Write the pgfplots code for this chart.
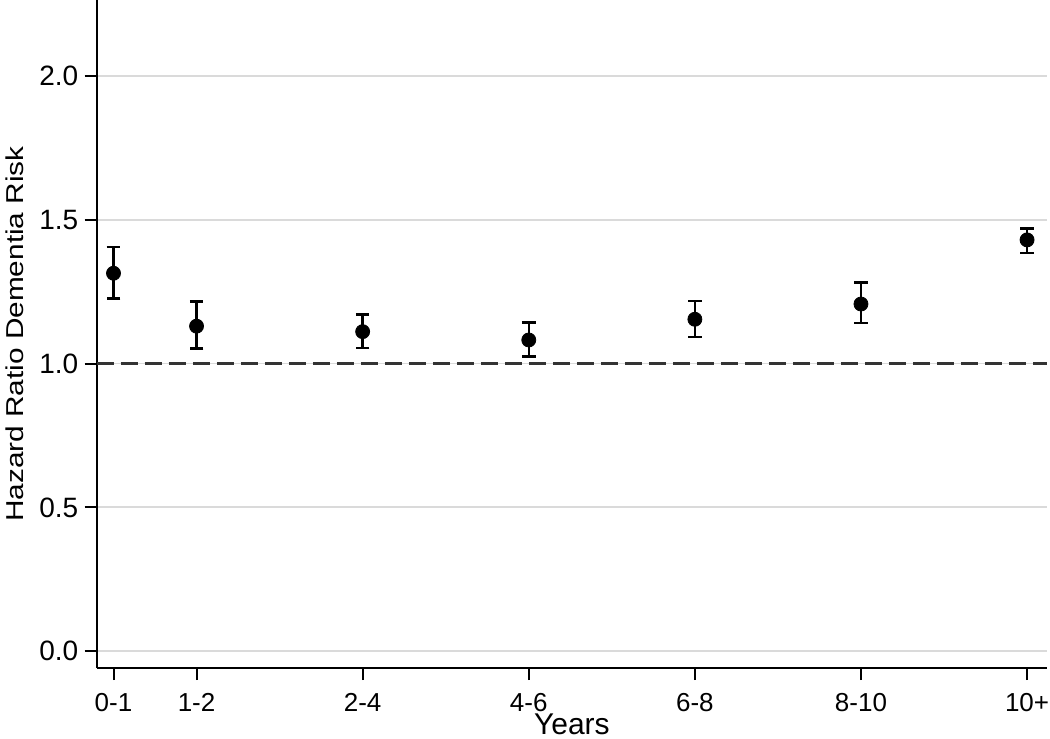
\documentclass[border=0pt]{standalone}
\usepackage{fontspec}
\setmainfont{Liberation Sans}
\newfontfamily\ylabfont[FakeStretch=1.22]{Liberation Sans}
\usepackage{pgfplots}
\usepackage{pgfplotstable}
\pgfplotsset{compat=1.18}
\definecolor{gridgray}{HTML}{DADADA}
\definecolor{refline}{HTML}{333333}
\pgfplotstableread{
x y lo hi
0 1.314 1.227 1.406
1 1.130 1.053 1.216
3 1.111 1.054 1.171
5 1.082 1.024 1.143
7 1.154 1.092 1.218
9 1.207 1.141 1.281
11 1.430 1.385 1.469
}\hrdata
\begin{document}
\begin{tikzpicture}
\begin{axis}[
  name=ax,
  scale only axis,
  width=475pt, height=334pt,
  xmin=-0.202, xmax=11.24,
  ymin=-0.059, ymax=2.264,
  axis x line*=bottom, axis y line*=left,
  axis line style={line width=1pt, black, -},
  tick align=outside,
  major tick length=6pt,
  tick style={line width=1pt, black},
  xtick={0,1,3,5,7,9,11},
  xticklabels={0-1,1-2,2-4,4-6,6-8,8-10,10+},
  ytick={0,0.5,1,1.5,2},
  ymajorgrids,
  major grid style={line width=0.9pt, gridgray},
  /pgf/number format/assume math mode=true,
  yticklabel style={font=\fontsize{14}{16}\selectfont, anchor=east, inner sep=0pt, xshift=-3pt,
    /pgf/number format/.cd, fixed, fixed zerofill, precision=1},
  xticklabel style={font=\fontsize{13}{15}\selectfont, anchor=north, inner sep=0pt, yshift=-6.5pt},
  xlabel={Years},
  xlabel style={font=\fontsize{15}{18}\selectfont, at={(axis description cs:0.5,0)}, anchor=north, inner sep=0pt, yshift=-22.5pt},
  ylabel={Hazard Ratio Dementia Risk},
  ylabel style={font=\fontsize{12.2}{14}\ylabfont, at={(axis description cs:-0.0965,0.5)}, rotate=0, anchor=north, inner sep=0pt},
  clip=false,
]
\addplot[refline, line width=1.2pt, dash pattern=on 8.5pt off 3.5pt] coordinates {(-0.202,1) (11.24,1)};
\addplot[only marks, mark=*, mark size=3.5pt, black,
  error bars/.cd, y dir=both, y explicit,
  error bar style={line width=1.25pt, black},
  error mark options={rotate=90, mark size=3.4pt, line width=1.25pt, black}]
  table[x=x, y=y, y error plus expr=\thisrow{hi}-\thisrow{y}, y error minus expr=\thisrow{y}-\thisrow{lo}] {\hrdata};
\end{axis}
\pgfresetboundingbox
\path[use as bounding box] ([xshift=-48.35pt,yshift=-35pt]ax.south west) rectangle ([xshift=1.5pt]ax.north east);
\end{tikzpicture}
\end{document}
